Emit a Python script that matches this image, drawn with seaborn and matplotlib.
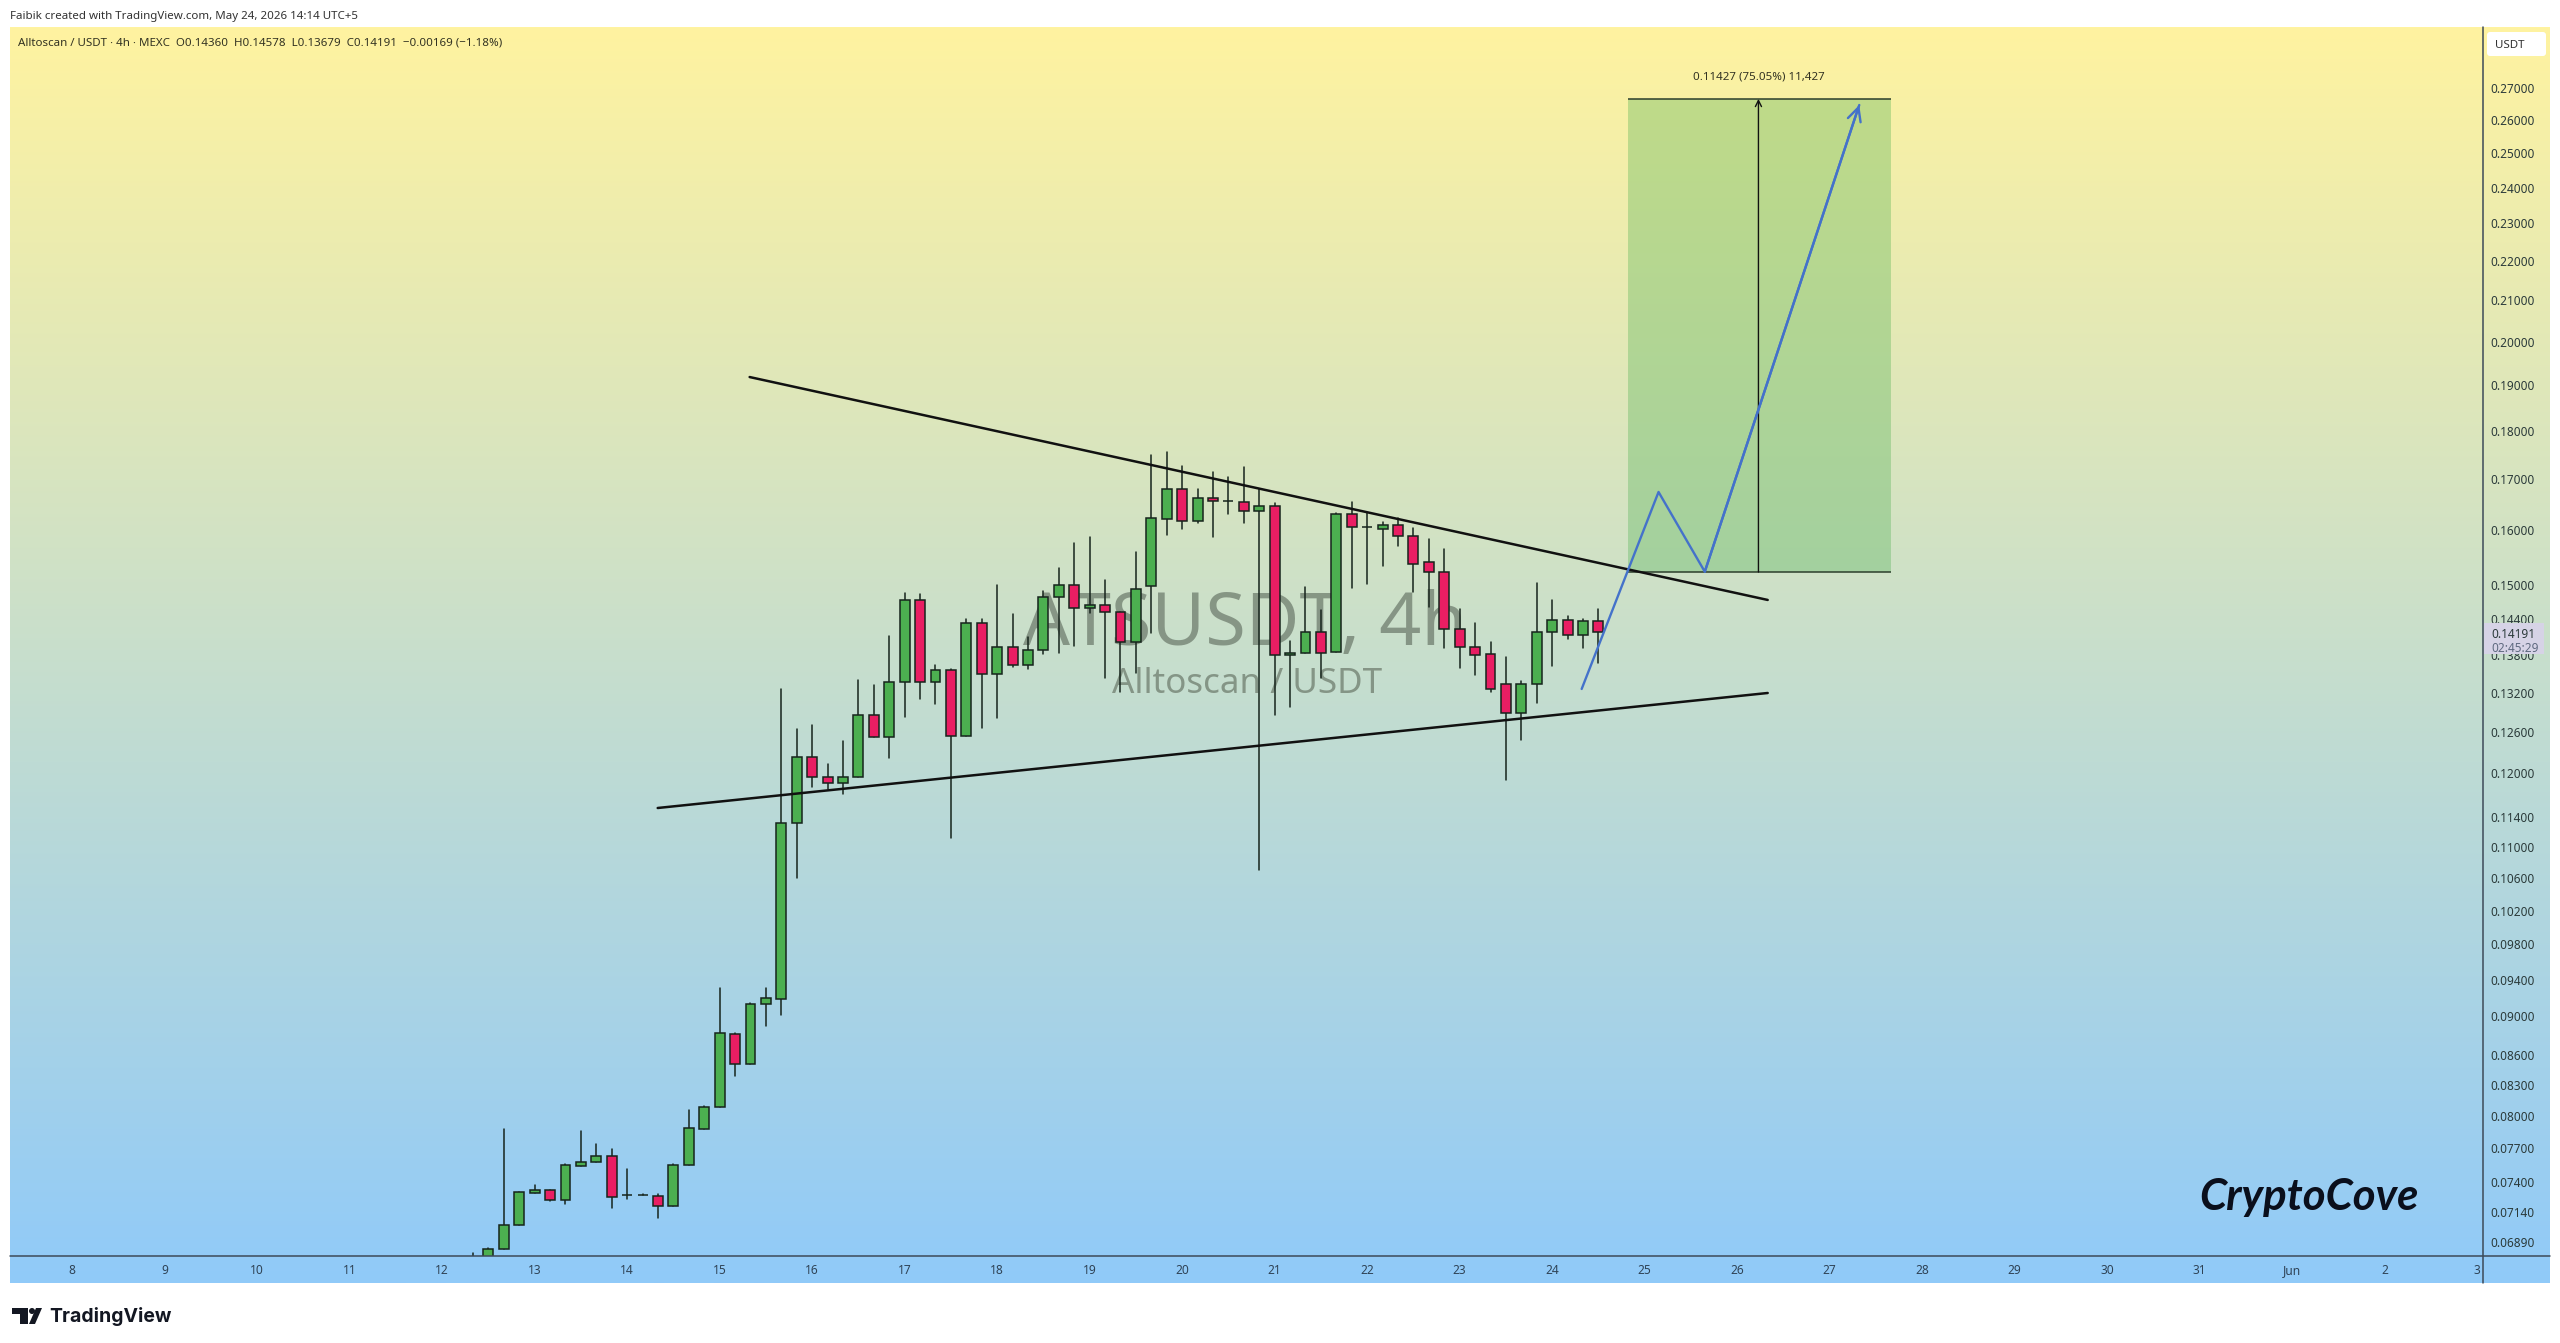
"""
ATSUSDT 4h chart with triangle trendlines and a long position box.
"""

import numpy as np
import pandas as pd
import matplotlib.pyplot as plt
import seaborn as sns
from matplotlib.patches import Polygon, Circle, FancyBboxPatch, Rectangle
from matplotlib.transforms import Affine2D

# 4h candles, first one on May 12 08:00
opens = [.06720, .06760, .06834, .07029, .07305, .07325, .07244, .07542, .07575, .07631,
         .07281, .07281, .07278, .07193, .07548, .07876, .08082, .08810, .08502, .09132,
         .09187, .11311, .12237, .11953, .11866, .11944, .12856, .12526, .13372, .14731,
         .13372, .13563, .12541, .14340, .13491, .13929, .13635, .13879, .14783, .14995,
         .14597, .14649, .14528, .14021, .14982, .16220, .16792, .16168, .16626, .16567,
         .16548, .16361, .16470, .13798, .13840, .14178, .13847, .16302, .16053, .16027,
         .16091, .15883, .15405, .15227, .14238, .13939, .13813, .13332, .12882, .13332,
         .14178, .14390, .14138, .14360]
highs = [.06801, .06842, .07874, .07310, .07369, .07325, .07559, .07853, .07735, .07692,
         .07510, .07293, .07291, .07559, .08056, .08092, .09307, .08820, .09147, .09310,
         .13258, .12641, .12709, .12127, .12471, .13394, .13321, .14110, .14853, .14836,
         .13635, .13579, .14407, .14407, .14995, .14494, .14094, .14888, .15305, .15753,
         .15865, .15083, .14528, .15586, .17488, .17551, .17270, .16792, .17147, .17033,
         .17250, .16792, .16517, .14027, .14965, .14563, .16322, .16536, .16322, .16149,
         .16238, .16034, .15833, .15647, .14570, .14327, .14011, .13765, .13383, .15035,
         .14725, .14447, .14400, .14578]
lows = [.06680, .06740, .06834, .07029, .07305, .07236, .07210, .07542, .07575, .07176,
        .07253, .07281, .07089, .07193, .07548, .07876, .08082, .08387, .08502, .08900,
        .09015, .10595, .11811, .11774, .11704, .11944, .12526, .12214, .12829, .13107,
        .13020, .11110, .12541, .12656, .12805, .13612, .13579, .13823, .13840, .13950,
        .14501, .13434, .13215, .13514, .14171, .15913, .16016, .16141, .15876, .16314,
        .16141, .10702, .12851, .12974, .13840, .13434, .13847, .14935, .15007, .15343,
        .15708, .14865, .14604, .13922, .13596, .13484, .13206, .11904, .12482, .13045,
        .13628, .14061, .13922, .13679]
closes = [.06760, .06834, .07029, .07308, .07327, .07244, .07545, .07578, .07631, .07270,
          .07281, .07281, .07193, .07545, .07881, .08082, .08820, .08502, .09136, .09201,
          .11311, .12237, .11953, .11866, .11944, .12856, .12526, .13372, .14731, .13372,
          .13563, .12541, .14340, .13491, .13929, .13635, .13879, .14783, .14995, .14592,
          .14649, .14523, .14021, .14924, .16228, .16792, .16168, .16626, .16567, .16567,
          .16361, .16470, .13798, .13840, .14178, .13840, .16302, .16053, .16053, .16091,
          .15883, .15379, .15227, .14238, .13939, .13807, .13254, .12882, .13332, .14178,
          .14390, .14138, .14360, .14191]

# tick labels
price_ticks = [.27, .26, .25, .24, .23, .22, .21, .20, .19, .18, .17, .16, .15, .144, .138, .132,
               .126, .12, .114, .11, .106, .102, .098, .094, .09, .086, .083, .08, .077, .074,
               .0714, .0689]
day_ticks = list(range(8, 35))
day_labels = [str(d) for d in range(8, 32)] + ["Jun", "2", "3"]

# drawings, day of month / price
upper_days = [15.324, 26.33]
upper_prices = [.19178, .14731]
lower_days = [14.33, 26.33]
lower_prices = [.11516, .13195]
path_days = [24.319, 25.15, 25.65, 27.32]
path_prices = [.13258, .16739, .15232, .26462]
box_days = [24.816, 27.66]
box_mid_day = 26.23
box_entry = .15226
box_target = .26653

W, H = 2560, 1343
LEFT, RIGHT, TOP, AXIS_Y, BOTTOM, PANEL_R = 10, 2483, 27, 1256, 1283, 2550

sns.set_theme(style="white")
plt.rcParams['font.family'] = ['Noto Sans', 'DejaVu Sans']

fig = plt.figure(figsize=(W / 100, H / 100), dpi=100, facecolor='white')
px = Affine2D().scale(1 / W, -1 / H).translate(0, 1) + fig.transFigure

# yellow to blue background behind everything
bg_ax = fig.add_axes([LEFT / W, 1 - BOTTOM / H, (PANEL_R - LEFT) / W, (BOTTOM - TOP) / H], zorder=-2)
top_col = np.array([255, 243, 160]) / 255
bot_col = np.array([144, 202, 249]) / 255
grad = np.linspace(0, 1, 512)[:, None, None]
bg_ax.imshow(top_col * (1 - grad) + bot_col * grad, aspect='auto')
bg_ax.axis('off')

ax = fig.add_axes([LEFT / W, 1 - AXIS_Y / H, (RIGHT - LEFT) / W, (AXIS_Y - TOP) / H], zorder=1)
ax.patch.set_alpha(0)
ax.set_yscale('log')

candle_days = 12 + (np.arange(len(opens)) + 2) / 6
df = pd.DataFrame({'day': candle_days, 'open': opens, 'high': highs, 'low': lows, 'close': closes})
wicks = df.melt(id_vars='day', value_vars=['high', 'low'], value_name='price')

# wicks
sns.lineplot(data=wicks, x='day', y='price', units='day', estimator=None, sort=False,
             color='#16241c', lw=1.1, legend=False, ax=ax, zorder=2)

# bodies
up = df['close'] >= df['open']
for mask, col in [(up, '#4caf50'), (~up, '#e91e63')]:
    part = df[mask]
    ax.bar(part['day'], part['close'] - part['open'], bottom=part['open'], width=0.108,
           color=col, edgecolor='#16241c', linewidth=1.1, zorder=3)

# trendlines
for xs, ys in [(upper_days, upper_prices), (lower_days, lower_prices)]:
    sns.lineplot(x=xs, y=ys, color='#111111', lw=1.8, estimator=None, sort=False, ax=ax, zorder=4)

# long position box
ax.fill_between(box_days, box_entry, box_target, color='#4caf50', alpha=0.33, lw=0, zorder=1)
ax.hlines([box_entry, box_target], box_days[0], box_days[1], color='#2c3e2c', lw=1.1, zorder=2)
ax.annotate('', xy=(box_mid_day, box_target), xytext=(box_mid_day, box_entry),
            arrowprops=dict(arrowstyle='->', color='#111111', lw=1.0, shrinkA=0, shrinkB=0, mutation_scale=11),
            zorder=4)

# projected path
sns.lineplot(x=path_days, y=path_prices, color='#4472ca', lw=1.7, estimator=None, sort=False, ax=ax, zorder=5)
ax.annotate('', xy=(path_days[-1], path_prices[-1]), xytext=(path_days[-2], path_prices[-2]),
            arrowprops=dict(arrowstyle='->', color='#4472ca', lw=1.7, shrinkA=0, shrinkB=0, mutation_scale=24),
            zorder=5)

ax.set_xlim(7.328, 34.063)
ax.set_ylim(.06777, .29021)
ax.set_xlabel('')
ax.set_ylabel('')

ax.yaxis.tick_right()
ax.set_yticks(price_ticks)
ax.set_yticklabels([f"{v:.5f}" for v in price_ticks], fontsize=8.5, color='#2b3a3a')
ax.minorticks_off()
ax.set_xticks(day_ticks)
ax.set_xticklabels(day_labels, fontsize=8.6, color='#2f4356')
ax.tick_params(axis='both', length=0)
ax.tick_params(axis='y', pad=5.5)
ax.tick_params(axis='x', pad=6)
for side in ['top', 'left', 'bottom', 'right']:
    ax.spines[side].set_visible(False)


def label(x, y, text, **kw):
    kw.setdefault('va', 'center')
    kw.setdefault('clip_on', False)
    return ax.text(x, y, text, transform=px, **kw)


# axis lines run to the edge of the panel
ax.add_line(plt.Line2D([LEFT, PANEL_R], [AXIS_Y, AXIS_Y], transform=px, color='#3d4a58', lw=1.1, clip_on=False, zorder=6))
ax.add_line(plt.Line2D([RIGHT, RIGHT], [TOP, BOTTOM], transform=px, color='#3d4a58', lw=1.1, clip_on=False, zorder=6))

# watermark
label(1245, 645, 'ATSUSDT, 4h', ha='center', va='baseline', fontsize=53, color='#6f7d6e', alpha=0.75, zorder=0.5)
label(1247, 693, 'Alltoscan / USDT', ha='center', va='baseline', fontsize=25.2, color='#6f7d6e', alpha=0.75, zorder=0.5)

label(1759, 77, '0.11427 (75.05%) 11,427', ha='center', fontsize=8.3, color='#333322')

label(2199, 1197, 'CryptoCove', family='Lato', weight='bold', style='italic', fontsize=31.5, color='#0a0f1c', zorder=6)

# header and legend
label(10, 17, 'Faibik created with TradingView.com, May 24, 2026 14:14 UTC+5', fontsize=8.3, color='#333333')
label(18, 43, 'Alltoscan / USDT \u00b7 4h \u00b7 MEXC  O0.14360  H0.14578  L0.13679  C0.14191  \u22120.00169 (\u22121.18%)',
      fontsize=8.3, color='#333322')

# currency box and last price tag
ax.add_patch(FancyBboxPatch((2489, 34), 55, 20, boxstyle='round,pad=2,rounding_size=3', transform=px,
                            fc='white', ec='none', clip_on=False, zorder=6))
label(2495, 46, 'USDT', fontsize=8.3, color='#333333', zorder=7)
ax.add_patch(Rectangle((2484, 623), 60, 31, transform=px, fc='#d6d3e6', ec='none', clip_on=False, zorder=6))
label(2491, 635, '0.14191', fontsize=8.5, color='#2b3a3a', zorder=7)
label(2491, 649, '02:45:29', fontsize=8.5, color='#5f6a80', zorder=7)

# TradingView logo
logo = dict(transform=px, fc='#131722', ec='none', clip_on=False)
ax.add_patch(Polygon([(12, 1308), (28, 1308), (28, 1324), (20, 1324), (20, 1314), (12, 1314)], **logo))
ax.add_patch(Circle((32, 1311), 3, **logo))
ax.add_patch(Polygon([(36, 1308), (42, 1308), (35, 1324), (29, 1324)], **logo))
label(49, 1316, 'TradingView', family='Inter', weight='bold', fontsize=14, color='#131722')

fig.savefig('out.png', dpi=100, facecolor='white')
